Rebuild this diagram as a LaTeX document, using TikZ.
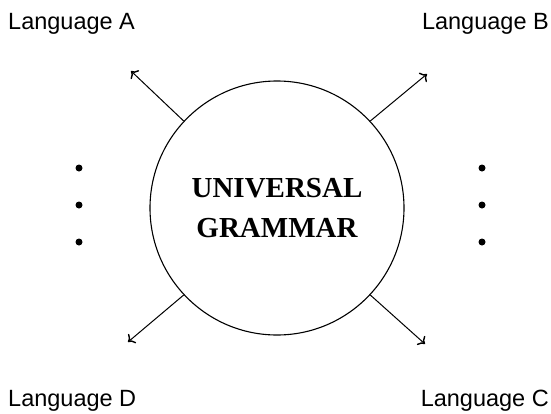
\documentclass[tikz,border=0pt]{standalone}
\usepackage{fontspec}
\setmainfont{Liberation Serif}
\setsansfont{Liberation Sans}
\usetikzlibrary{arrows.meta}

\tikzset{
	lang/.style={anchor=base west, inner sep=0pt, font=\sffamily\fontsize{23.5}{27}\selectfont},
	arr/.style={-{To[length=6pt,width=12pt,line width=1.4pt]}, line width=1pt},
	dot/.style={circle, fill, inner sep=0pt, minimum size=7pt}
}

\begin{document}
\begin{tikzpicture}[x=1pt, y=-1pt]
		\useasboundingbox (0,0) rectangle (551,413);
		\node[circle, draw, line width=1.1pt, minimum size=254pt, align=center, font=\bfseries\fontsize{29}{40}\selectfont] (ug) at (277,208) {UNIVERSAL\\GRAMMAR};
		\node[lang] (la) at (8,29) {Language A};
		\node[lang, anchor=base east] (lb) at (549,29) {Language B};
		\node[lang] (ld) at (8,406) {Language D};
		\node[lang, anchor=base east] (lc) at (549,406) {Language C};
		\coordinate (ta) at (131,71);
		\coordinate (tb) at (427,74);
		\coordinate (td) at (128,342);
		\coordinate (tc) at (425,344);
		\draw[arr] (ug.137) -- (ta);
		\draw[arr] (ug.43) -- (tb);
		\draw[arr] (ug.223) -- (td);
		\draw[arr] (ug.317) -- (tc);
		\foreach \y/\n in {168/1, 205/2, 242/3} {
			\node[dot] (l\n) at (79,\y) {};
			\node[dot] (r\n) at (482,\y) {};
		}
	\end{tikzpicture}
\end{document}
